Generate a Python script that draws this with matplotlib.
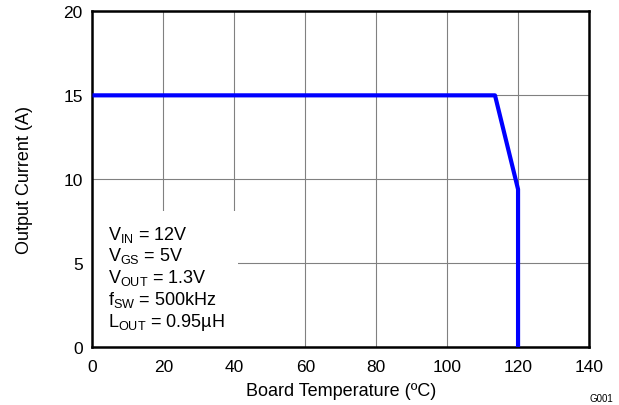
import matplotlib
matplotlib.use("Agg")
import matplotlib.pyplot as plt

plt.rcParams['font.family'] = ['Liberation Sans', 'DejaVu Sans']
plt.rcParams['mathtext.fontset'] = 'custom'
plt.rcParams['mathtext.rm'] = 'Liberation Sans'
plt.rcParams['mathtext.it'] = 'Liberation Sans:italic'

# derating curve
temp = [0, 113.5, 120, 120]
current = [15, 15, 9.4, 0]

xticks = [0, 20, 40, 60, 80, 100, 120, 140]
yticks = [0, 5, 10, 15, 20]

conds = [r"$\mathregular{V_{IN}}$ = 12V",
         r"$\mathregular{V_{GS}}$ = 5V",
         r"$\mathregular{V_{OUT}}$ = 1.3V",
         r"$\mathregular{f_{SW}}$ = 500kHz",
         r"$\mathregular{L_{OUT}}$ = 0.95µH"]

fig = plt.figure(figsize=(6.19, 4.06), dpi=100)
ax = fig.add_axes([0.1494, 0.1429, 0.8021, 0.8264])

ax.plot(temp, current, color='#0000ff', lw=3, zorder=5, solid_capstyle='butt')
ax.set_xlim(0, 140)
ax.set_ylim(0, 20)
ax.set_xticks(xticks)
ax.set_yticks(yticks)
ax.set_axisbelow(True)
ax.grid(True, color='#808080', lw=0.8)
ax.tick_params(length=0, labelsize=12.5)
ax.tick_params(axis='x', pad=8.5)
ax.tick_params(axis='y', pad=7)
for s in ax.spines.values():
    s.set_linewidth(1.8)

ax.set_xlabel("Board Temperature (ºC)", fontsize=13, labelpad=6)
ax.set_ylabel("Output Current (A)", fontsize=13, labelpad=22)

# white box over grid for the conditions
ax.add_patch(plt.Rectangle((0, 0), 41, 8.1, facecolor='white', edgecolor='none', zorder=1))
ax.text(4.5, 7.35, "\n".join(conds), fontsize=13, va='top', ha='left',
        linespacing=1.12, zorder=4)

fig.text(0.99, 0.005, "G001", fontsize=7, ha='right', va='bottom')

fig.savefig("out.png", dpi=100)
